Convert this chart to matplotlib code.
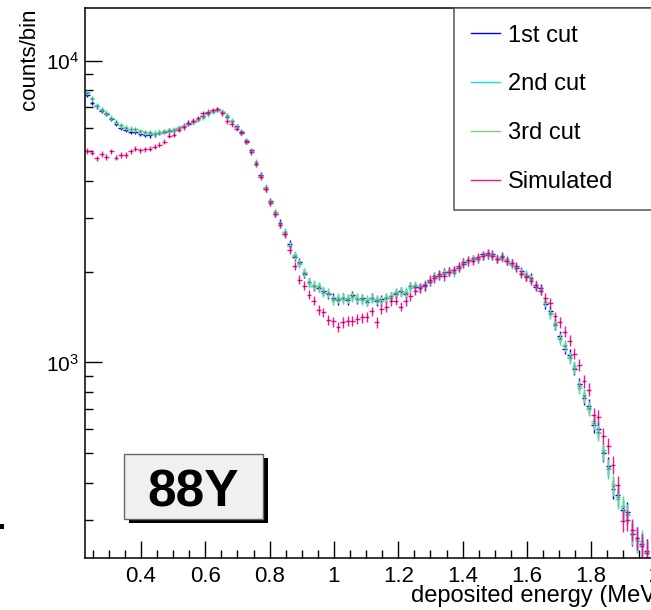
import numpy as np
import matplotlib
matplotlib.use('Agg')
import matplotlib.pyplot as plt
from matplotlib.lines import Line2D
from matplotlib.patches import Rectangle
from matplotlib.ticker import MultipleLocator, FuncFormatter, NullFormatter

plt.rcParams['font.family'] = ['Liberation Sans', 'DejaVu Sans']

# histogram: 0.015 MeV bins starting at 0.225 MeV
bin_lo = 0.225
bin_w = 0.015
err_scale = 2.0   # weight per entry, error = sqrt(w * content)

cut1 = [7700, 7250, 7050, 6800, 6650, 6400, 6180, 5980, 5900, 5820,
        5810, 5720, 5690, 5660, 5700, 5760, 5800, 5850, 5880, 5960,
        6080, 6180, 6300, 6400, 6540, 6700, 6800, 6850, 6740, 6520,
        6300, 6050, 5760, 5380, 5050, 4560, 4180, 3760, 3420, 3110,
        2900, 2670, 2470, 2240, 2150, 1970, 1850, 1790, 1770, 1720,
        1680, 1640, 1610, 1640, 1610, 1670, 1620, 1630, 1590, 1640,
        1600, 1620, 1630, 1660, 1690, 1720, 1690, 1790, 1780, 1780,
        1790, 1850, 1930, 1940, 1990, 1990, 2020, 2060, 2150, 2160,
        2210, 2200, 2280, 2270, 2290, 2200, 2250, 2170, 2140, 2060,
        2010, 1930, 1910, 1780, 1760, 1560, 1480, 1330, 1220, 1110,
        1060, 950, 850, 760, 720, 620, 600, 500, 455, 380,
        365, 325, 320, 270, 262, 250, 238, 222]

cut2 = [7850, 7520, 7120, 6900, 6720, 6470, 6280, 6110, 6020, 5950,
        5920, 5840, 5790, 5780, 5770, 5800, 5840, 5890, 5920, 5990,
        6040, 6220, 6250, 6370, 6490, 6640, 6770, 6880, 6780, 6580,
        6320, 6010, 5830, 5440, 5000, 4610, 4130, 3810, 3390, 3150,
        2860, 2710, 2440, 2270, 2120, 1990, 1830, 1810, 1790, 1700,
        1700, 1610, 1635, 1620, 1630, 1645, 1640, 1610, 1610, 1625,
        1620, 1595, 1645, 1640, 1710, 1705, 1715, 1770, 1805, 1760,
        1820, 1870, 1910, 1960, 1960, 2010, 1985, 2090, 2125, 2185,
        2180, 2225, 2250, 2310, 2255, 2225, 2215, 2200, 2110, 2085,
        1975, 1955, 1880, 1810, 1730, 1590, 1450, 1355, 1195, 1140,
        1035, 970, 825, 780, 700, 640, 582, 512, 442, 395,
        353, 335, 312, 278, 256, 256, 234, 216]

cut3 = [7800, 7480, 7060, 6880, 6700, 6450, 6260, 6100, 6000, 5940,
        5930, 5830, 5780, 5760, 5730, 5770, 5830, 5870, 5890, 5960,
        6050, 6190, 6260, 6400, 6500, 6650, 6800, 6880, 6770, 6570,
        6300, 6040, 5820, 5430, 5030, 4580, 4160, 3780, 3400, 3140,
        2870, 2700, 2440, 2250, 2140, 1985, 1845, 1795, 1775, 1715,
        1695, 1620, 1625, 1635, 1625, 1655, 1625, 1625, 1600, 1630,
        1615, 1600, 1640, 1655, 1700, 1715, 1700, 1785, 1790, 1770,
        1810, 1860, 1925, 1950, 1975, 2005, 2000, 2075, 2135, 2170,
        2200, 2215, 2260, 2290, 2270, 2210, 2230, 2190, 2120, 2075,
        1985, 1945, 1890, 1800, 1735, 1580, 1455, 1345, 1205, 1130,
        1040, 962, 835, 772, 705, 632, 588, 505, 448, 390,
        358, 330, 315, 272, 258, 252, 235, 218]

simulated = [5020, 4960, 4750, 4910, 4790, 5000, 4770, 4870, 4870, 5000,
             5100, 5040, 5090, 5100, 5190, 5260, 5390, 5630, 5680, 5900,
             6020, 6230, 6320, 6450, 6680, 6780, 6850, 6920, 6680, 6300,
             6150, 5950, 5780, 5400, 4980, 4550, 4120, 3760, 3380, 3100,
             2860, 2660, 2360, 2090, 1880, 1795, 1676, 1604, 1494, 1464,
             1385, 1367, 1310, 1357, 1377, 1377, 1392, 1409, 1414, 1475,
             1357, 1502, 1525, 1592, 1604, 1532, 1592, 1654, 1731, 1760,
             1800, 1880, 1900, 1960, 1930, 2000, 2030, 2080, 2120, 2180,
             2170, 2230, 2250, 2300, 2250, 2200, 2240, 2170, 2140, 2080,
             1960, 1920, 1860, 1800, 1730, 1640, 1573, 1420, 1357, 1266,
             1182, 1069, 983, 865, 812, 671, 662, 572, 530, 458,
             394, 299, 300, 279, 263, 247, 234, 219]

labels = ['1st cut', '2nd cut', '3rd cut', 'Simulated']
colors = ['#0000ff', '#10e6e6', '#7ccf7c', '#ff108c']
series = [cut1, cut2, cut3, simulated]

energy = bin_lo + bin_w * (np.arange(len(cut1)) + 0.5)

W, H = 651, 610
fig = plt.figure(figsize=(W / 100, H / 100), dpi=100)
ax = fig.add_axes([84.7 / W, 52 / H, 578.9 / W, 549.7 / H])

for y, c in zip(series, colors):
    y = np.array(y, dtype=float)
    ax.errorbar(energy, y, xerr=bin_w / 2, yerr=np.sqrt(err_scale * y),
                fmt='none', ecolor=c, elinewidth=1.0, capsize=0)
    ax.plot(energy, y, ls='none', marker='s', ms=1.0, mew=0,
            color='#202020', alpha=0.6)

ax.set_yscale('log')
ax.set_xlim(0.225, 2.025)
ax.set_ylim(225, 14900)

ax.xaxis.set_major_locator(MultipleLocator(0.2))
ax.xaxis.set_minor_locator(MultipleLocator(0.05))
ax.xaxis.set_major_formatter(FuncFormatter(lambda v, p: '%g' % round(v, 2)))
ax.yaxis.set_minor_formatter(NullFormatter())

ax.tick_params(which='both', direction='in', top=False, right=False, width=1.0)
ax.tick_params(which='major', length=12)
ax.tick_params(which='minor', length=6)
ax.tick_params(axis='x', pad=6, labelsize=16)
ax.tick_params(axis='y', pad=4, labelsize=15)
for s in ax.spines.values():
    s.set_linewidth(1.1)

ax.set_ylabel('counts/bin', loc='top', fontsize=16)
ax.yaxis.set_label_coords(-0.078, 1.0)
ax.set_xlabel('deposited energy (MeV)', loc='right', fontsize=17)
ax.xaxis.set_label_coords(1.0, -0.05)

# legend
handles = [Line2D([], [], color=c, lw=1.0) for c in colors]
leg = ax.legend(handles, labels, loc='upper left',
                bbox_to_anchor=(454 / W, 1 - 202 / H, 0.4, 194 / H),
                bbox_transform=fig.transFigure, mode='expand',
                borderaxespad=0, borderpad=0.7, labelspacing=1.14,
                handlelength=1.25, handletextpad=0.34, fontsize=17,
                fancybox=False, framealpha=1, edgecolor='#555555')
leg.get_frame().set_linewidth(1.1)

# "88Y" label box with shadow
bx, by, bw, bh = 124 / W, 1 - 519 / H, 139 / W, 65 / H
fig.add_artist(Rectangle((bx + 5 / W, by - 4 / H), bw, bh, transform=fig.transFigure,
                         facecolor='black', edgecolor='black', lw=0, zorder=5))
fig.add_artist(Rectangle((bx, by), bw, bh, transform=fig.transFigure,
                         facecolor='#f0f0f0', edgecolor='#666666', lw=1.0, zorder=6))
fig.text(193.5 / W, 1 - 506.7 / H, '88Y', ha='center', va='baseline',
         fontsize=37, fontweight='bold', zorder=7)

# small mark at the left edge
fig.add_artist(Rectangle((0, 1 - 529 / H), 4 / W, 5 / H, transform=fig.transFigure,
                         facecolor='black', lw=0))

fig.savefig('out.png', dpi=100)
